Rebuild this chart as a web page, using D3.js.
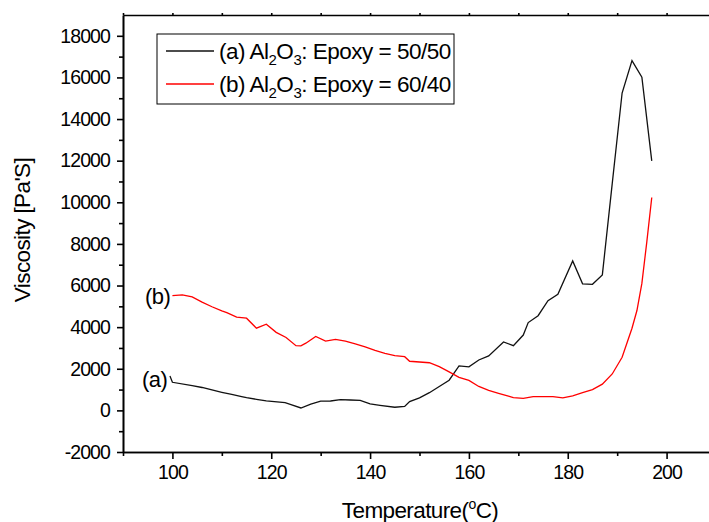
<!DOCTYPE html>
<html>
<head>
<meta charset="utf-8">
<script src="https://cdn.jsdelivr.net/npm/d3@7"></script>
<style>
  body { margin: 0; background: #fff; }
  svg { display: block; font-family: "Liberation Sans", Arial, sans-serif; }
  .axis path, .axis line { stroke: #000; stroke-width: 1.6; }
  .axis text { font-size: 19.5px; fill: #000; letter-spacing: -0.9px; }
</style>
</head>
<body>
<script>
// sample (a) Al2O3 : Epoxy = 50/50
const tempA = [99.5, 100, 104, 106, 108, 110, 112, 114, 115, 117, 119, 122.8, 124, 126, 128, 130, 132, 134, 136, 138, 140, 142, 145, 147, 148, 150, 152, 154, 156, 158, 160, 162, 164, 167, 169, 171, 172, 174, 176, 178, 181, 183, 185, 187, 189, 191, 193, 195, 197]
const viscA = [1650, 1350, 1190, 1100, 980, 870, 770, 660, 610, 530, 452, 370, 280, 115, 300, 440, 450, 520, 500, 480, 310, 240, 150, 190, 420, 600, 850, 1150, 1450, 2135, 2090, 2420, 2620, 3290, 3110, 3620, 4220, 4550, 5270, 5580, 7180, 6080, 6060, 6510, 10900, 15250, 16810, 16010, 11990]

// sample (b) Al2O3 : Epoxy = 60/40
const tempB = [100, 102, 104, 106, 108, 110, 111, 113, 115, 117, 119, 121, 123, 125, 126, 127, 129, 131, 133, 135, 137, 139, 141, 143, 145, 147, 148, 152, 154, 156, 158, 160, 162, 164, 166, 168, 169, 171, 173, 177, 179, 181, 183, 185, 187, 189, 191, 192, 193, 194, 195, 196, 197]
const viscB = [5510, 5550, 5450, 5200, 4980, 4780, 4700, 4480, 4430, 3950, 4140, 3750, 3500, 3110, 3100, 3230, 3550, 3330, 3410, 3330, 3200, 3050, 2880, 2740, 2630, 2580, 2360, 2290, 2100, 1850, 1590, 1440, 1150, 960, 820, 680, 611, 580, 660, 660, 600, 700, 850, 1000, 1260, 1750, 2550, 3250, 3950, 4800, 6100, 8100, 10230]

const xMajor = [100, 120, 140, 160, 180, 200]
const xMinor = [90, 110, 130, 150, 170, 190, 210]
const yMajor = [-2000, 0, 2000, 4000, 6000, 8000, 10000, 12000, 14000, 16000, 18000]
const yMinor = [-1000, 1000, 3000, 5000, 7000, 9000, 11000, 13000, 15000, 17000]

const width = 709, height = 522
const plotLeft = 123, plotTop = 15, plotRight = 716, plotBottom = 452

const svg = d3.select('body').append('svg')
    .attr('width', width)
    .attr('height', height)

const x = d3.scaleLinear().domain([90, 210]).range([plotLeft, plotRight])
const y = d3.scaleLinear().domain([-2000, 19000]).range([plotBottom, plotTop])

// minor ticks first, then the major axis on top
svg.append('g').attr('class', 'axis')
    .attr('transform', `translate(0,${plotBottom})`)
    .call(d3.axisBottom(x).tickValues(xMinor).tickSize(4).tickSizeOuter(0).tickFormat(''))
svg.append('g').attr('class', 'axis')
    .attr('transform', `translate(${plotLeft},0)`)
    .call(d3.axisLeft(y).tickValues(yMinor).tickSize(4).tickSizeOuter(0).tickFormat(''))

svg.append('g').attr('class', 'axis')
    .attr('transform', `translate(0,${plotBottom})`)
    .call(d3.axisBottom(x).tickValues(xMajor).tickSize(7).tickSizeOuter(0).tickPadding(6).tickFormat(d => String(d)))

svg.append('g').attr('class', 'axis')
    .attr('transform', `translate(${plotLeft},0)`)
    .call(d3.axisLeft(y).tickValues(yMajor).tickSize(6).tickSizeOuter(0).tickPadding(7).tickFormat(d => String(d)))

// top frame with its little outward ticks
svg.append('g').attr('class', 'axis')
    .attr('transform', `translate(0,${plotTop})`)
    .call(d3.axisTop(x).tickValues(xMajor.concat(xMinor)).tickSize(2).tickSizeOuter(0).tickFormat(''))
svg.append('g').attr('class', 'axis')
    .attr('transform', `translate(${plotRight},0)`)
    .call(d3.axisRight(y).tickValues([]).tickSizeOuter(0))

const line = d3.line()
    .x(d => x(d[0]))
    .y(d => y(d[1]))

svg.append('path')
    .datum(d3.zip(tempA, viscA))
    .attr('d', line)
    .attr('fill', 'none')
    .attr('stroke', '#111')
    .attr('stroke-width', 1.3)

svg.append('path')
    .datum(d3.zip(tempB, viscB))
    .attr('d', line)
    .attr('fill', 'none')
    .attr('stroke', '#ff0000')
    .attr('stroke-width', 1.3)

// curve labels
svg.append('text')
    .attr('x', x(100) - 2).attr('y', y(5500) + 8)
    .attr('text-anchor', 'end')
    .style('font-size', '22px')
    .style('letter-spacing', '-0.5px')
    .text('(b)')
svg.append('text')
    .attr('x', x(100) - 5).attr('y', y(1500) + 8)
    .attr('text-anchor', 'end')
    .style('font-size', '22px')
    .style('letter-spacing', '-0.5px')
    .text('(a)')

// legend
const legend = svg.append('g')
legend.append('rect')
    .attr('x', 157).attr('y', 34)
    .attr('width', 297).attr('height', 70)
    .attr('fill', '#fff')
    .attr('stroke', '#000')
    .attr('stroke-width', 1)

const entries = [
  { tag: '(a)', ratio: '50/50', color: '#111' },
  { tag: '(b)', ratio: '60/40', color: '#ff0000' }
]
entries.forEach((e, i) => {
  const cy = 51 + i * 33
  legend.append('line')
      .attr('x1', 166).attr('x2', 214)
      .attr('y1', cy).attr('y2', cy)
      .attr('stroke', e.color)
      .attr('stroke-width', 1.3)
  const t = legend.append('text')
      .attr('x', 219).attr('y', cy + 8)
      .style('font-size', '22.5px')
      .style('letter-spacing', '-0.5px')
  t.append('tspan').text(`${e.tag} Al`)
  t.append('tspan').attr('dy', 6).style('font-size', '15px').text('2')
  t.append('tspan').attr('dy', -6).text('O')
  t.append('tspan').attr('dy', 6).style('font-size', '15px').text('3')
  t.append('tspan').attr('dy', -6).text(`: Epoxy = ${e.ratio}`)
})

// axis titles
svg.append('text')
    .attr('transform', 'translate(30,230) rotate(-90)')
    .attr('text-anchor', 'middle')
    .style('font-size', '22.5px')
    .style('letter-spacing', '-0.6px')
    .text("Viscosity [Pa'S]")

const xt = svg.append('text')
    .attr('x', 420).attr('y', 518)
    .attr('text-anchor', 'middle')
    .style('font-size', '22.5px')
    .style('letter-spacing', '-0.6px')
xt.append('tspan').text('Temperature(')
xt.append('tspan').attr('dy', -9).style('font-size', '14px').text('o')
xt.append('tspan').attr('dy', 9).text('C)')
</script>
</body>
</html>
